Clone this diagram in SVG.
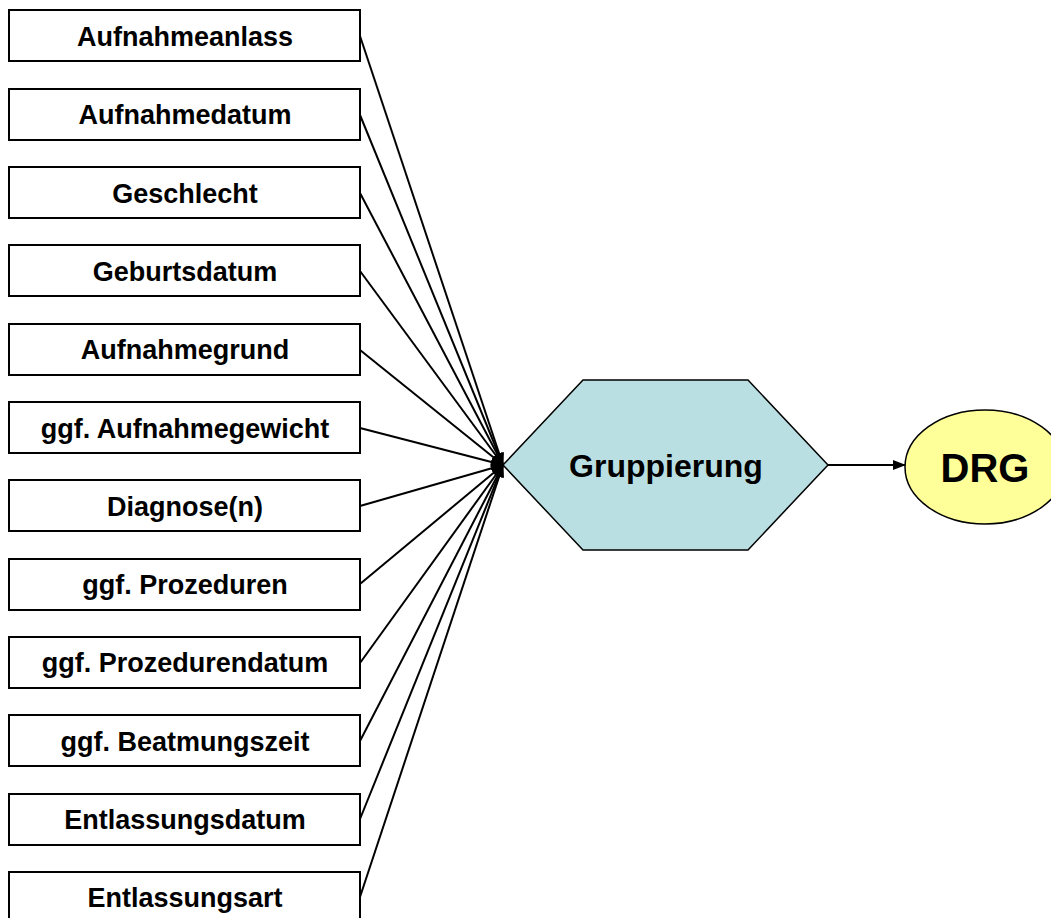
<svg xmlns="http://www.w3.org/2000/svg" width="1051" height="918" viewBox="0 0 1051 918">
<style>
.box{fill:#fff;stroke:#000;stroke-width:2}
.lbl{font-family:"Liberation Sans",Arial,sans-serif;font-weight:bold;font-size:27px;fill:#000;text-anchor:middle;dominant-baseline:central}
.con{stroke:#000;stroke-width:2;fill:none}
</style>
<defs>
<marker id="ah" markerWidth="13" markerHeight="10" refX="12" refY="5" orient="auto" markerUnits="userSpaceOnUse">
<path d="M0,0 L13,5 L0,10 Z" fill="#000"/>
</marker>
</defs>
<g id="connectors">
<line class="con" x1="360" y1="36" x2="503" y2="465" marker-end="url(#ah)"/>
<line class="con" x1="360" y1="115" x2="503" y2="465" marker-end="url(#ah)"/>
<line class="con" x1="360" y1="193" x2="503" y2="465" marker-end="url(#ah)"/>
<line class="con" x1="360" y1="271" x2="503" y2="465" marker-end="url(#ah)"/>
<line class="con" x1="360" y1="350" x2="503" y2="465" marker-end="url(#ah)"/>
<line class="con" x1="360" y1="428" x2="503" y2="465" marker-end="url(#ah)"/>
<line class="con" x1="360" y1="506" x2="503" y2="465" marker-end="url(#ah)"/>
<line class="con" x1="360" y1="584" x2="503" y2="465" marker-end="url(#ah)"/>
<line class="con" x1="360" y1="663" x2="503" y2="465" marker-end="url(#ah)"/>
<line class="con" x1="360" y1="741" x2="503" y2="465" marker-end="url(#ah)"/>
<line class="con" x1="360" y1="819" x2="503" y2="465" marker-end="url(#ah)"/>
<line class="con" x1="360" y1="897" x2="503" y2="465" marker-end="url(#ah)"/>
<line class="con" x1="828" y1="465" x2="905" y2="465" marker-end="url(#ah)"/>
</g>
<g id="n1"><rect class="box" x="9" y="10" width="351" height="51"/><text class="lbl" x="185" y="37">Aufnahmeanlass</text></g>
<g id="n2"><rect class="box" x="9" y="89" width="351" height="51"/><text class="lbl" x="185" y="115">Aufnahmedatum</text></g>
<g id="n3"><rect class="box" x="9" y="167" width="351" height="51"/><text class="lbl" x="185" y="194">Geschlecht</text></g>
<g id="n4"><rect class="box" x="9" y="245" width="351" height="51"/><text class="lbl" x="185" y="272">Geburtsdatum</text></g>
<g id="n5"><rect class="box" x="9" y="324" width="351" height="51"/><text class="lbl" x="185" y="350">Aufnahmegrund</text></g>
<g id="n6"><rect class="box" x="9" y="402" width="351" height="51"/><text class="lbl" x="185" y="429">ggf. Aufnahmegewicht</text></g>
<g id="n7"><rect class="box" x="9" y="480" width="351" height="51"/><text class="lbl" x="185" y="507">Diagnose(n)</text></g>
<g id="n8"><rect class="box" x="9" y="559" width="351" height="51"/><text class="lbl" x="185" y="585">ggf. Prozeduren</text></g>
<g id="n9"><rect class="box" x="9" y="637" width="351" height="51"/><text class="lbl" x="185" y="663">ggf. Prozedurendatum</text></g>
<g id="n10"><rect class="box" x="9" y="715" width="351" height="51"/><text class="lbl" x="185" y="742">ggf. Beatmungszeit</text></g>
<g id="n11"><rect class="box" x="9" y="794" width="351" height="51"/><text class="lbl" x="185" y="820">Entlassungsdatum</text></g>
<g id="n12"><rect class="box" x="9" y="872" width="351" height="51"/><text class="lbl" x="185" y="898">Entlassungsart</text></g>
<g id="gruppierung">
<polygon points="503,465 583,380 748,380 828,465 748,550 583,550" fill="#B9DFE3" stroke="#000" stroke-width="1.5"/>
<text class="lbl" x="666" y="466" style="font-size:32px">Gruppierung</text>
</g>
<g id="drg">
<ellipse cx="985" cy="467" rx="80" ry="57" fill="#FFFF99" stroke="#000" stroke-width="1.5"/>
<text class="lbl" x="985" y="468" style="font-size:40px">DRG</text>
</g>
</svg>
